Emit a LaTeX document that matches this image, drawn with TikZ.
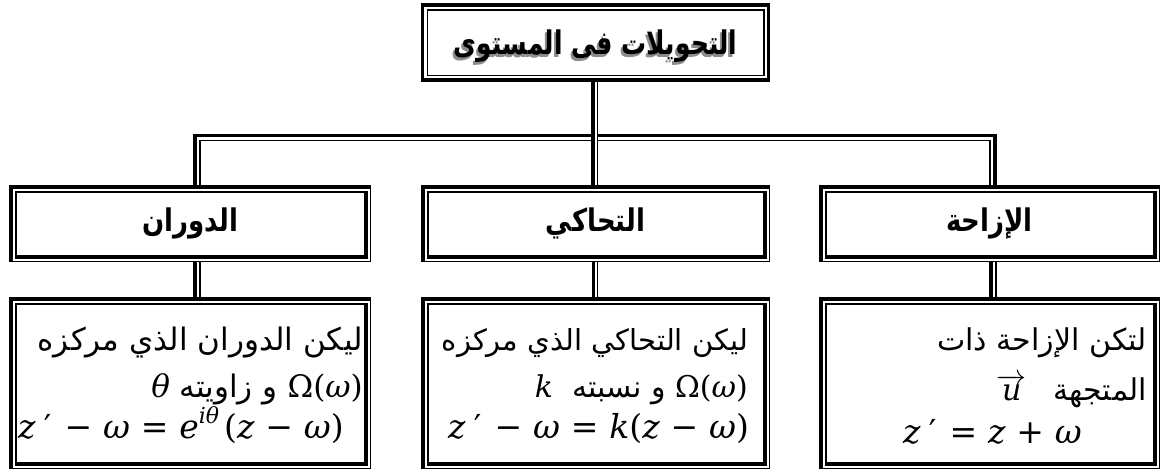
\RequirePackage{fix-cm}
\documentclass[tikz,border=0pt]{standalone}
\usepackage{fontspec}
\usetikzlibrary{calc}
\TeXXeTstate=1
\newfontfamily\arabicfont[Script=Arabic]{DejaVu Sans}
\newfontfamily\eqfont{DejaVu Serif}
% right-to-left Arabic run
\newcommand\artext[1]{{\arabicfont\beginR #1\endR}}
% heavy lettering with a grey drop shadow
\newcommand\embossed[1]{\makebox[0pt][l]{\hspace*{-2pt}\raisebox{-2pt}{\color{black!45}#1}}#1}
% formula pieces
\newcommand\mi[1]{{\eqfont\itshape #1}}
\newcommand\sups[1]{\raisebox{0.45em}{\fontsize{22}{26}\selectfont\mi{#1}}}
\newcommand\opsp{\hspace{0.33em}}
\newcommand\vecu{$\overrightarrow{\hbox{\mi{u}}}$}

\tikzset{
  thickln/.style={line width=3.8pt, line cap=butt, line join=miter},
  thinln/.style={line width=1.5pt},
  gapln/.style={white, line width=2pt},
  boxsize/.style={inner sep=0pt, outer sep=0pt, minimum width=#1},
  titlebox/.style={boxsize=#1, minimum height=79pt},
  headbox/.style={boxsize=#1, minimum height=77pt, font=\fontsize{26}{30}\selectfont\arabicfont\bfseries},
  bodybox/.style={boxsize=#1, minimum height=172pt},
  titletext/.style={inner sep=0pt, font=\fontsize{25}{30}\selectfont\arabicfont\bfseries},
  prose/.style={inner sep=0pt, anchor=base east, font=\fontsize{#1}{34}\selectfont\eqfont},
  prose/.default=30,
  formula/.style={inner sep=0pt, anchor=base west, font=\fontsize{33}{38}\selectfont\eqfont},
}

% double border: heavy outside on the top and left, heavy inside on the bottom and right
\newcommand\shadowframe[1]{%
  \draw[thinln] ($(#1.north west)+(0.75,0.75)$) rectangle ($(#1.south east)+(-0.75,-0.75)$);
  \draw[thickln] ($(#1.south west)+(2,0)$) -- ($(#1.north west)+(2,2)$) -- ($(#1.north east)+(0,2)$);
  \draw[thinln] ($(#1.north west)+(6.75,6.75)$) rectangle ($(#1.south east)+(-5.25,-5.25)$);
  \draw[thickln] ($(#1.south west)+(6,-5.25)$) -- ($(#1.south east)+(-5.25,-5.25)$) -- ($(#1.north east)+(-5.25,6)$);
}
% double border: heavy outside all round
\newcommand\titleframe[1]{%
  \draw[thickln] ($(#1.north west)+(2,2)$) rectangle ($(#1.south east)+(-2,-2)$);
  \draw[thinln] ($(#1.north west)+(6.75,6.75)$) rectangle ($(#1.south east)+(-6.75,-6.75)$);
}

\begin{document}
\begin{tikzpicture}[x=1pt, y=-1pt]
\useasboundingbox (0,0) rectangle (1161,471);

% boxes
\node[titlebox=350] (title) at (595.5,42.5) {};
\node[headbox=362] (hrot) at (190,223.5) {\scalebox{1}[1.2]{\artext{الدوران}}};
\node[headbox=349] (hsim) at (595.5,223.5) {\scalebox{1}[1.2]{\artext{التحاكي}}};
\node[headbox=341] (htr) at (989.5,223.5) {\scalebox{1}[1.2]{\artext{الإزاحة}}};
\node[bodybox=362] (brot) at (190,383) {};
\node[bodybox=349] (bsim) at (595.5,383) {};
\node[bodybox=341] (btr) at (989.5,383) {};
\node[titletext] (titlelabel) at ($(title.center)+(0,5)$) {\scalebox{1}[1.3]{\embossed{\artext{التحويلات فى المستوى}}}};

% bus from the title to the three headings
\draw[thickln] ($(hrot.north)+(5,0)$) -- ($(hrot.north)+(5,-49.5)$) -- ($(htr.north)+(5.5,-49.5)$) -- ($(htr.north)+(5.5,0)$);
\draw[thinln] ($(hrot.north)+(10,0)$) -- ($(hrot.north)+(10,-44.5)$) -- ($(htr.north)+(0.5,-44.5)$) -- ($(htr.north)+(0.5,0)$);
\draw[gapln] ($(title.south)+(0.3,0)$) -- ($(hsim.north)+(0.3,0)$);
\draw[thickln] ($(title.south)+(-2.5,0)$) -- ($(hsim.north)+(-2.5,0)$);
\draw[thinln] ($(title.south)+(2,0)$) -- ($(hsim.north)+(2,0)$);

% heading to description
\draw[thickln] ($(hrot.south)+(5,0)$) -- ($(brot.north)+(5,0)$);
\draw[thinln] ($(hrot.south)+(10,0)$) -- ($(brot.north)+(10,0)$);
\draw[thickln] ($(hsim.south)+(-2,0)$) -- ($(bsim.north)+(-2,0)$);
\draw[thinln] ($(hsim.south)+(2,0)$) -- ($(bsim.north)+(2,0)$);
\draw[thickln] ($(htr.south)+(1.5,0)$) -- ($(btr.north)+(1.5,0)$);
\draw[thinln] ($(htr.south)+(6.5,0)$) -- ($(btr.north)+(6.5,0)$);

% borders
\titleframe{title}
\shadowframe{hrot}
\shadowframe{hsim}
\shadowframe{htr}
\shadowframe{brot}
\shadowframe{bsim}
\shadowframe{btr}

% rotation
\node[prose=31] (rotA) at ($(brot.north east)+(-8,53)$) {\artext{ليكن الدوران الذي مركزه}};
\node[prose=31] (rotB) at ($(brot.north east)+(-8,100)$) {\mi{θ}\ \artext{و زاويته} Ω(\mi{ω})};
\node[formula] (rotC) at ($(brot.north west)+(9,141)$) {\mi{z}\hspace{0.25em}′\hspace{0.4em}−\opsp\mi{ω}\opsp=\opsp\mi{e}\sups{iθ}\hspace{0.15em}(\mi{z}\opsp−\opsp\mi{ω})};

% homothety
\node[prose=29] (simA) at ($(bsim.north east)+(-22,53)$) {\artext{ليكن التحاكي الذي مركزه}};
\node[prose] (simB) at ($(bsim.north east)+(-22,100)$) {\mi{k}\ \ \artext{و نسبته} Ω(\mi{ω})};
\node[formula] (simC) at ($(bsim.north west)+(27,141)$) {\mi{z}\hspace{0.25em}′\hspace{0.4em}−\opsp\mi{ω}\opsp=\opsp\mi{k}(\mi{z}\opsp−\opsp\mi{ω})};

% translation
\node[prose] (trA) at ($(btr.north east)+(-13,53)$) {\artext{لتكن الإزاحة ذات}};
\node[prose] (trB) at ($(btr.north east)+(-13,103)$) {\vecu\hspace{0.9em}\artext{المتجهة}};
\node[formula] (trC) at ($(btr.north west)+(84,146)$) {\mi{z}\hspace{0.25em}′\hspace{0.4em}=\opsp\mi{z}\opsp+\opsp\mi{ω}};
\end{tikzpicture}
\end{document}
